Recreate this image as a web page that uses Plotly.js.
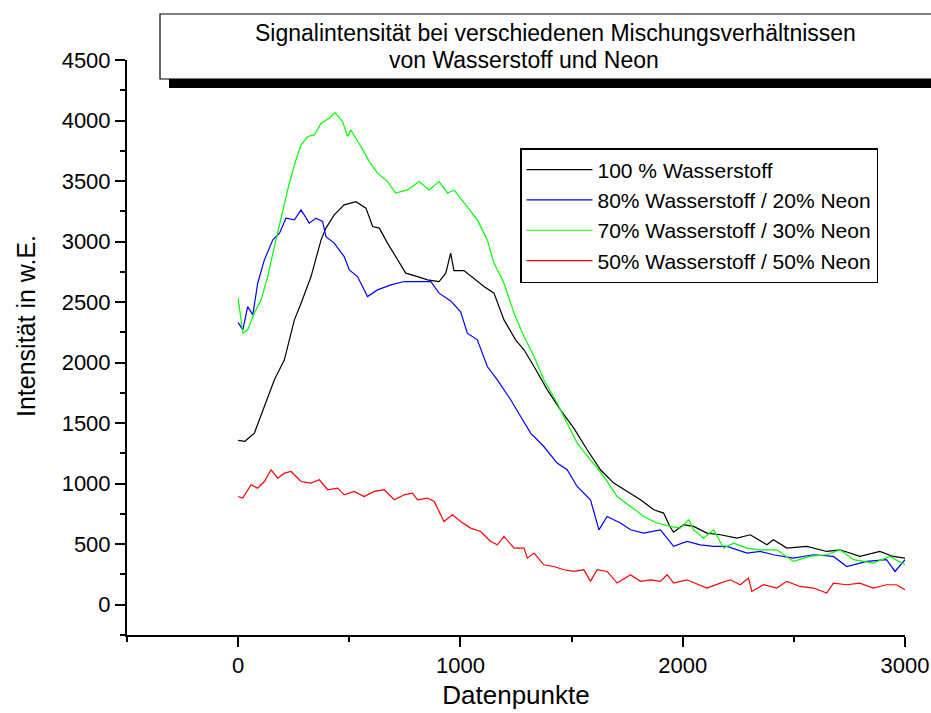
<!DOCTYPE html>
<html>
<head>
<meta charset="utf-8">
<script src="https://cdn.plot.ly/plotly-3.0.1.min.js"></script>
<style>html,body{margin:0;padding:0;background:#fff;}</style>
</head>
<body>
<div id="chart" style="width:931px;height:713px;"></div>
<script>
// ---- Data ----
const seriesNames = [
  "100 % Wasserstoff",
  "80% Wasserstoff / 20% Neon",
  "70% Wasserstoff / 30% Neon",
  "50% Wasserstoff / 50% Neon"
];

const xH100 = [0, 30, 73, 118, 163, 208, 253, 283, 328, 373, 395, 432, 477, 530, 575, 605, 635, 672, 717, 754, 807, 852, 904, 934, 956, 971, 1016, 1039, 1106, 1151, 1196, 1248, 1286, 1331, 1391, 1450, 1510, 1570, 1630, 1690, 1750, 1810, 1870, 1914, 1944, 1959, 2004, 2049, 2109, 2169, 2244, 2304, 2379, 2408, 2468, 2558, 2648, 2708, 2797, 2887, 2947, 3000];
const yH100 = [1357, 1350, 1418, 1638, 1858, 2023, 2353, 2491, 2711, 3014, 3111, 3220, 3303, 3330, 3276, 3124, 3111, 2987, 2849, 2739, 2711, 2684, 2670, 2739, 2904, 2760, 2760, 2725, 2629, 2574, 2353, 2188, 2106, 1968, 1775, 1610, 1459, 1280, 1115, 1005, 936, 867, 784, 757, 640, 600, 661, 647, 592, 578, 550, 578, 495, 537, 468, 482, 440, 454, 399, 440, 399, 385];

const xH80 = [0, 21, 43, 66, 88, 118, 156, 186, 215, 253, 283, 320, 350, 380, 395, 432, 477, 500, 537, 582, 627, 687, 747, 807, 867, 904, 956, 1001, 1031, 1076, 1121, 1166, 1226, 1271, 1316, 1375, 1435, 1480, 1525, 1585, 1623, 1660, 1720, 1765, 1825, 1900, 1959, 2019, 2079, 2139, 2199, 2289, 2348, 2408, 2498, 2588, 2678, 2738, 2828, 2917, 2955, 3000];
const yH80 = [2331, 2271, 2463, 2395, 2656, 2849, 3014, 3069, 3193, 3179, 3262, 3152, 3193, 3166, 3041, 2987, 2876, 2766, 2711, 2546, 2601, 2642, 2670, 2670, 2670, 2574, 2510, 2420, 2243, 2188, 1968, 1858, 1693, 1555, 1418, 1307, 1170, 1115, 977, 867, 619, 729, 675, 619, 592, 619, 482, 523, 495, 482, 482, 427, 440, 413, 385, 413, 399, 316, 358, 372, 275, 372];

const xH70 = [0, 21, 43, 73, 103, 133, 163, 200, 230, 260, 283, 313, 343, 373, 410, 435, 470, 492, 507, 552, 590, 627, 672, 709, 762, 814, 859, 904, 942, 971, 1016, 1076, 1121, 1151, 1196, 1241, 1286, 1331, 1375, 1435, 1480, 1525, 1585, 1645, 1705, 1765, 1825, 1884, 1944, 1989, 2027, 2049, 2094, 2139, 2184, 2229, 2289, 2348, 2423, 2498, 2573, 2648, 2708, 2768, 2857, 2932, 3000];
const yH70 = [2533, 2243, 2271, 2409, 2519, 2711, 2959, 3262, 3482, 3675, 3799, 3868, 3881, 3978, 4019, 4066, 3991, 3868, 3922, 3785, 3661, 3565, 3496, 3400, 3427, 3496, 3427, 3496, 3400, 3427, 3317, 3179, 3014, 2822, 2656, 2409, 2216, 2050, 1858, 1666, 1500, 1335, 1197, 1060, 894, 812, 729, 675, 647, 633, 702, 619, 550, 619, 468, 509, 468, 454, 454, 358, 399, 413, 454, 372, 344, 399, 330];

const xH50 = [0, 21, 58, 88, 118, 148, 178, 208, 238, 283, 328, 365, 403, 448, 477, 522, 567, 612, 657, 702, 747, 784, 807, 852, 882, 926, 964, 1001, 1046, 1091, 1136, 1166, 1196, 1241, 1286, 1301, 1331, 1375, 1420, 1465, 1510, 1555, 1585, 1615, 1660, 1705, 1765, 1810, 1855, 1900, 1930, 1959, 2019, 2079, 2109, 2169, 2214, 2259, 2296, 2311, 2364, 2423, 2468, 2528, 2588, 2648, 2678, 2738, 2797, 2857, 2917, 2962, 3000];
const yH50 = [894, 881, 991, 963, 1018, 1115, 1046, 1087, 1101, 1018, 1005, 1032, 950, 963, 908, 936, 894, 936, 950, 867, 908, 922, 867, 881, 853, 688, 743, 688, 633, 605, 523, 495, 564, 468, 468, 385, 427, 330, 316, 289, 275, 289, 193, 289, 275, 179, 248, 193, 206, 193, 248, 179, 206, 165, 138, 179, 206, 165, 220, 110, 165, 138, 193, 151, 138, 96, 179, 165, 179, 138, 165, 165, 124];

const titleLine1 = "Signalintensität bei verschiedenen Mischungsverhältnissen";
const titleLine2 = "von Wasserstoff und Neon";
const xTitle = "Datenpunkte";
const yTitle = "Intensität in w.E.";

// ---- Layout helpers (pixel -> paper) ----
const W = 931, H = 713;
const M = {l: 127, r: 26, t: 60, b: 78};
const PW = W - M.l - M.r, PH = H - M.t - M.b;
const px = v => (v - M.l) / PW;
const py = v => (H - M.b - v) / PH;

const FONT = "Liberation Sans, Arial, Helvetica, sans-serif";
const colors = ["#000000", "#0000ff", "#00ff00", "#ff0000"];
const xs = [xH100, xH80, xH70, xH50];
const ys = [yH100, yH80, yH70, yH50];

const traces = seriesNames.map((n, i) => ({
  type: "scatter", mode: "lines", name: n,
  x: xs[i], y: ys[i],
  line: {color: colors[i], width: 1.2}
}));

const layout = {
  width: W, height: H,
  margin: M,
  paper_bgcolor: "#fff", plot_bgcolor: "#fff",
  font: {family: FONT, color: "#000", size: 22},
  showlegend: true,
  legend: {
    x: px(520), y: py(148), xanchor: "left", yanchor: "top",
    bordercolor: "#000", borderwidth: 1.5, bgcolor: "#fff",
    font: {family: FONT, size: 21, color: "#000"},
    itemwidth: 66,
    tracegroupgap: 0
  },
  xaxis: {
    range: [-500, 3000], tick0: 0, dtick: 1000,
    showline: true, linecolor: "#000", linewidth: 2,
    ticks: "outside", ticklen: 10, tickwidth: 2, tickcolor: "#000",
    minor: {dtick: 500, tick0: 0, ticks: "outside", ticklen: 5, tickwidth: 2, tickcolor: "#000"},
    showgrid: false, zeroline: false,
    tickfont: {family: FONT, size: 22},
    title: {text: xTitle, font: {family: FONT, size: 26}, standoff: 8}
  },
  yaxis: {
    range: [-250, 4500], tick0: 0, dtick: 500,
    showline: true, linecolor: "#000", linewidth: 2,
    ticks: "outside", ticklen: 10, tickwidth: 2, tickcolor: "#000",
    minor: {dtick: 250, tick0: 0, ticks: "outside", ticklen: 5, tickwidth: 2, tickcolor: "#000"},
    showgrid: false, zeroline: false,
    tickfont: {family: FONT, size: 22}
  },
  shapes: [
    {type: "rect", xref: "paper", yref: "paper", layer: "above",
     x0: px(169), x1: px(950), y0: py(88), y1: py(23),
     fillcolor: "#000", line: {width: 0}},
    {type: "rect", xref: "paper", yref: "paper", layer: "above",
     x0: px(160), x1: px(940), y0: py(79), y1: py(14),
     fillcolor: "#fff", line: {color: "#000", width: 1.2}}
  ],
  annotations: [
    {text: titleLine1, xref: "paper", yref: "paper", x: px(555), y: py(33),
     xanchor: "center", yanchor: "middle", showarrow: false,
     font: {family: FONT, size: 23, color: "#000"}},
    {text: titleLine2, xref: "paper", yref: "paper", x: px(524), y: py(60),
     xanchor: "center", yanchor: "middle", showarrow: false,
     font: {family: FONT, size: 23, color: "#000"}},
    {text: yTitle, xref: "paper", yref: "paper", x: px(26), y: py(326),
     xanchor: "center", yanchor: "middle", showarrow: false, textangle: -90,
     font: {family: FONT, size: 25, color: "#000"}}
  ]
};

Plotly.newPlot("chart", traces, layout, {staticPlot: true, displayModeBar: false});
</script>
</body>
</html>
